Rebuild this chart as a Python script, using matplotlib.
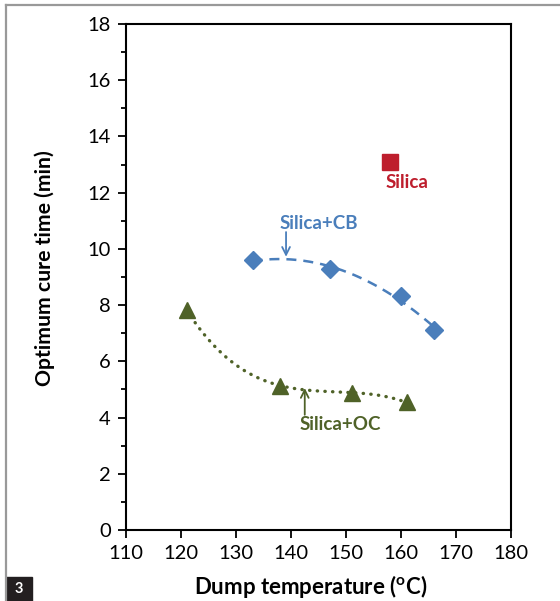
"""Optimum cure time against dump temperature for the three silica compounds."""

import matplotlib

matplotlib.use("Agg")
import matplotlib.pyplot as plt
import numpy as np
from matplotlib.lines import Line2D

plt.rcParams["font.family"] = ["Lato", "DejaVu Sans"]
plt.rcParams["mathtext.fontset"] = "custom"
plt.rcParams["mathtext.rm"] = "Lato"
plt.rcParams["mathtext.bf"] = "Lato:bold"

# Dump temperature (C) and optimum cure time (min) per compound
silica_temp = [158]
silica_time = [13.1]

cb_temp = [133, 147, 160, 166]
cb_time = [9.6, 9.27, 8.33, 7.12]

oc_temp = [121, 138, 151, 161]
oc_time = [7.83, 5.14, 4.89, 4.54]

x_ticks = [110, 120, 130, 140, 150, 160, 170, 180]
y_ticks = [0, 2, 4, 6, 8, 10, 12, 14, 16, 18]

RED = "#be1e2d"
BLUE = "#4a7ebb"
GREEN = "#4f6228"


def trend(x, y, order):
    """Polynomial trendline over the span of the data."""
    coeffs = np.polyfit(x, y, order)
    xs = np.linspace(min(x), max(x), 200)
    return xs, np.polyval(coeffs, xs)


fig = plt.figure(figsize=(5.6, 6.01), dpi=100)
ax = fig.add_axes([0.225, 0.1181, 0.6875, 0.8419])

xs, ys = trend(cb_temp, cb_time, 2)
ax.plot(xs, ys, color=BLUE, lw=1.8, dashes=(4, 2.8), zorder=2)
xs, ys = trend(oc_temp, oc_time, 3)
ax.plot(xs, ys, color=GREEN, lw=2.4, dashes=(0.1, 2.2),
        dash_capstyle="round", zorder=2)

ax.plot(cb_temp, cb_time, "D", color=BLUE, ms=9, mec=BLUE, zorder=3)
ax.plot(oc_temp, oc_time, "^", color=GREEN, ms=11, mec=GREEN, zorder=3)
ax.plot(silica_temp, silica_time, "s", color=RED, ms=11.5, mec=RED, zorder=3)

ax.text(silica_temp[0] + 3, silica_time[0] - 0.75, "Silica", color=RED,
        fontsize=13.5, fontweight="bold", ha="center", va="center")

ax.annotate("", xy=(139.1, 9.72), xytext=(139.1, 10.6),
            arrowprops=dict(arrowstyle="->", color=BLUE, lw=1.3,
                            shrinkA=0, shrinkB=0, mutation_scale=14))
ax.text(145.1, 10.9, "Silica+CB", color=BLUE, fontsize=13.5,
        fontweight="bold", ha="center", va="center")

ax.annotate("", xy=(142.5, 5.05), xytext=(142.5, 4.1),
            arrowprops=dict(arrowstyle="->", color=GREEN, lw=1.3,
                            shrinkA=0, shrinkB=0, mutation_scale=14))
ax.text(148.9, 3.74, "Silica+OC", color=GREEN, fontsize=13.5,
        fontweight="bold", ha="center", va="center")

ax.set_xlim(110, 180)
ax.set_ylim(0, 18)
ax.set_xticks(x_ticks)
ax.set_yticks(y_ticks)
ax.set_yticks(np.arange(1, 18, 2), minor=True)
ax.tick_params(axis="both", which="major", direction="out", length=6,
               width=1.3, labelsize=14.5, pad=5, colors="black")
ax.tick_params(axis="y", which="minor", direction="out", length=3.5, width=1.3)
ax.tick_params(axis="x", which="minor", length=0)
for spine in ax.spines.values():
    spine.set_linewidth(1.5)
    spine.set_color("black")

ax.set_xlabel(r"Dump temperature ($^{\mathbf{o}}$C)", fontsize=16,
              fontweight="bold")
ax.xaxis.set_label_coords(0.48, -0.084)
ax.set_ylabel("Optimum cure time (min)", fontsize=15.3, fontweight="bold")
ax.yaxis.set_label_coords(-0.185, 0.517)

# Figure frame and panel number
fig.add_artist(Line2D([0.0105, 0.0105], [0, 0.9917], color="#999999", lw=1.6,
                      transform=fig.transFigure))
fig.add_artist(Line2D([0.0105, 1], [0.9917, 0.9917], color="#999999", lw=1.6,
                      transform=fig.transFigure))
fig.patches.append(plt.Rectangle((0.0107, 0), 0.047, 0.04, color="#231f20",
                                 transform=fig.transFigure, figure=fig))
fig.text(0.034, 0.02, "3", color="white", fontsize=10.5, fontweight="bold",
         ha="center", va="center")

fig.savefig("out.png", dpi=100)
